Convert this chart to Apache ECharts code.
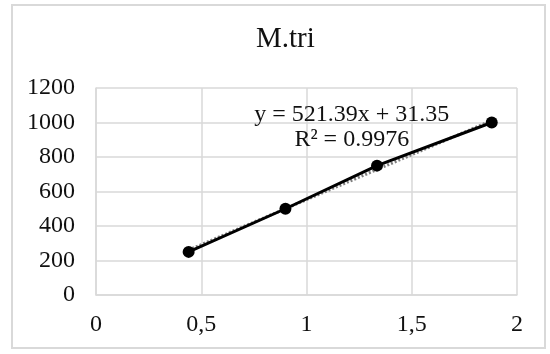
<!DOCTYPE html>
<html>
<head>
<meta charset="utf-8">
<script src="https://cdn.jsdelivr.net/npm/echarts@6/dist/echarts.min.js"></script>
<style>
html,body{margin:0;padding:0;background:#fff;}
#frame{position:absolute;left:11px;top:4px;width:535px;height:345px;border:2px solid #d9d9d9;box-sizing:border-box;}
#chart{position:absolute;left:0;top:0;width:550px;height:354px;}
</style>
</head>
<body>
<div id="frame"></div>
<div id="chart"></div>
<script>
var title = "M.tri";
var xValues = [0.44, 0.9, 1.335, 1.88];
var yValues = [250, 500, 750, 1000];
var trendX = [0.44, 1.88];
var trendY = [260.8, 1011.6];
var equationLines = ["y = 521.39x + 31.35", "R² = 0.9976"];
var equationAnchor = [1.215, 975];
var xTicks = [0, 0.5, 1, 1.5, 2];
var yTicks = [0, 200, 400, 600, 800, 1000, 1200];

var font = "'Liberation Serif', 'Times New Roman', serif";
var chart = echarts.init(document.getElementById('chart'), null, {renderer: 'canvas'});
var gridColor = '#d9d9d9';
var textColor = '#111';

chart.setOption({
  animation: false,
  backgroundColor: 'transparent',
  title: {
    text: title, left: 251, top: 20,
    textStyle: {fontFamily: font, fontSize: 29, fontWeight: 'normal', color: textColor}
  },
  grid: {left: 96, right: 33, top: 88, bottom: 59, containLabel: false, show: false},
  xAxis: {
    type: 'value', min: xTicks[0], max: xTicks[xTicks.length - 1], interval: 0.5,
    axisLine: {show: true, lineStyle: {color: gridColor, width: 1.5}},
    axisTick: {show: false},
    splitLine: {show: true, lineStyle: {color: gridColor, width: 1.5}},
    axisLabel: {
      fontFamily: font, fontSize: 24, color: textColor, margin: 18,
      formatter: function (v) { return String(v).replace('.', ','); }
    }
  },
  yAxis: {
    type: 'value', min: yTicks[0], max: yTicks[yTicks.length - 1], interval: 200,
    axisLine: {show: true, lineStyle: {color: gridColor, width: 1.5}},
    axisTick: {show: false},
    splitLine: {show: true, lineStyle: {color: gridColor, width: 1.5}},
    axisLabel: {
      fontFamily: font, fontSize: 24, color: textColor, margin: 21,
      formatter: function (v) { return String(v); }
    }
  },
  series: [
    {
      type: 'line', name: 'trend', z: 1,
      data: trendX.map(function (x, i) { return [x, trendY[i]]; }),
      showSymbol: false, symbol: 'none',
      lineStyle: {color: '#7f7f7f', width: 3, type: [2, 2]},
      markPoint: {
        symbol: 'circle', symbolSize: 0,
        data: [{coord: equationAnchor, value: 0}],
        label: {
          show: true, position: 'inside',
          formatter: equationLines.join('\n'),
          fontFamily: font, fontSize: 24, lineHeight: 25, color: textColor, align: 'center'
        }
      }
    },
    {
      type: 'line', name: 'M.tri', z: 3,
      data: xValues.map(function (x, i) { return [x, yValues[i]]; }),
      symbol: 'circle', symbolSize: 12, showSymbol: true,
      itemStyle: {color: '#000'},
      lineStyle: {color: '#000', width: 3}
    }
  ]
});
</script>
</body>
</html>
